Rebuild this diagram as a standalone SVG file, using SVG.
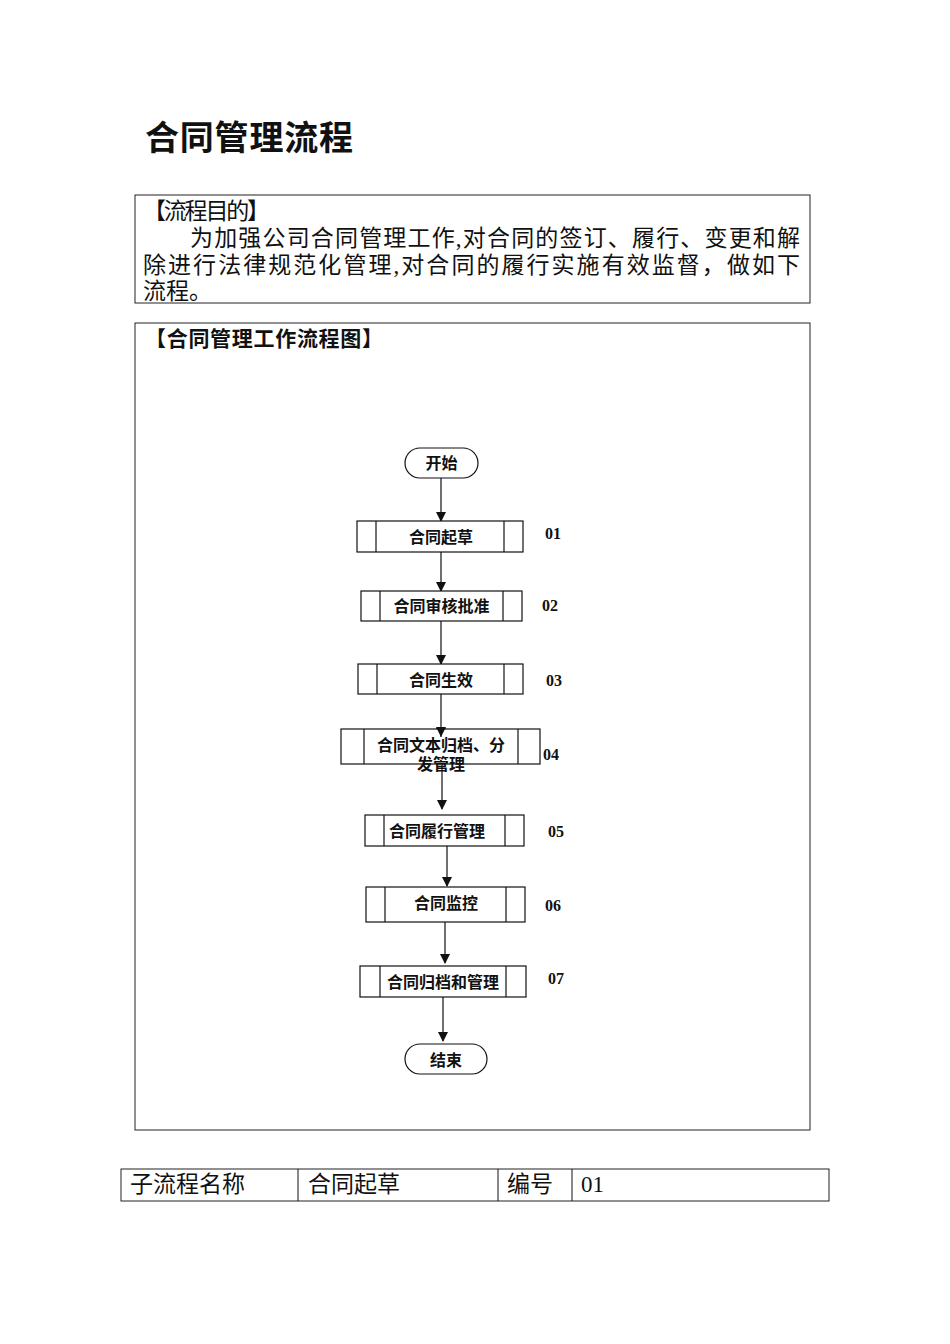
<svg xmlns="http://www.w3.org/2000/svg" width="950" height="1344" viewBox="0 0 950 1344">
<style>
.frame{fill:none;stroke:#222;stroke-width:1}
.body{font-family:"Liberation Serif","Noto Sans CJK SC",serif;font-size:23px;fill:#111}
.node{fill:#fff;stroke:#111;stroke-width:1.2}
.nt{font-family:"Liberation Sans","Noto Sans CJK SC",sans-serif;font-size:16px;font-weight:bold;fill:#111;text-anchor:middle}
.num{font-family:"Liberation Serif","Noto Sans CJK SC",serif;font-size:16px;font-weight:bold;fill:#111}
.conn{stroke:#111;stroke-width:1.2;fill:none}
</style>
<defs>
<marker id="arr" markerWidth="10" markerHeight="10" refX="9" refY="5" orient="auto" markerUnits="userSpaceOnUse">
<path d="M0,0 L10,5 L0,10 Z" fill="#111"/>
</marker>
</defs>
<rect width="950" height="1344" fill="#fff"/>
<text x="145" y="150" font-family="Liberation Sans,'Noto Sans CJK SC',sans-serif" font-size="34" font-weight="bold" fill="#111" textLength="208">合同管理流程</text>

<g id="purpose">
<rect class="frame" x="135" y="195" width="675" height="108"/>
<text class="body" x="143" y="219" textLength="127" lengthAdjust="spacing">【流程目的】</text>
<text class="body" x="190" y="246" textLength="610">为加强公司合同管理工作,对合同的签订、履行、变更和解</text>
<text class="body" x="143" y="273" textLength="657">除进行法律规范化管理,对合同的履行实施有效监督，做如下</text>
<text class="body" x="143" y="299">流程。</text>
</g>

<g id="chart-frame">
<rect class="frame" x="135" y="323" width="675" height="807"/>
<text x="145" y="346" font-family="Liberation Sans,'Noto Sans CJK SC',sans-serif" font-size="21" font-weight="bold" fill="#111" textLength="238">【合同管理工作流程图】</text>
</g>

<g id="connectors">
<line class="conn" x1="441" y1="478" x2="441" y2="521" marker-end="url(#arr)"/>
<line class="conn" x1="441" y1="552" x2="441" y2="591" marker-end="url(#arr)"/>
<line class="conn" x1="441" y1="621" x2="441" y2="664" marker-end="url(#arr)"/>
<line class="conn" x1="441" y1="694" x2="441" y2="737" marker-end="url(#arr)"/>
<line class="conn" x1="442" y1="764" x2="442" y2="809" marker-end="url(#arr)"/>
<line class="conn" x1="447" y1="846" x2="447" y2="886" marker-end="url(#arr)"/>
<line class="conn" x1="445" y1="922" x2="445" y2="963" marker-end="url(#arr)"/>
<line class="conn" x1="443" y1="997" x2="443" y2="1041" marker-end="url(#arr)"/>
</g>

<g id="start">
<rect class="node" x="405" y="448" width="73" height="30" rx="15"/>
<text class="nt" x="441.5" y="469">开始</text>
</g>

<g id="n01">
<rect class="node" x="357" y="521" width="166" height="31"/>
<line class="conn" x1="376" y1="521" x2="376" y2="552"/>
<line class="conn" x1="504" y1="521" x2="504" y2="552"/>
<text class="nt" x="441" y="543">合同起草</text>
<text class="num" x="545" y="539">01</text>
</g>

<g id="n02">
<rect class="node" x="361" y="591" width="161" height="30"/>
<line class="conn" x1="380" y1="591" x2="380" y2="621"/>
<line class="conn" x1="503" y1="591" x2="503" y2="621"/>
<text class="nt" x="441.5" y="612">合同审核批准</text>
<text class="num" x="542" y="611">02</text>
</g>

<g id="n03">
<rect class="node" x="358" y="664" width="165" height="30"/>
<line class="conn" x1="377" y1="664" x2="377" y2="694"/>
<line class="conn" x1="504" y1="664" x2="504" y2="694"/>
<text class="nt" x="441" y="686">合同生效</text>
<text class="num" x="546" y="686">03</text>
</g>

<g id="n04">
<rect class="node" x="341" y="729" width="199" height="35"/>
<line class="conn" x1="364" y1="729" x2="364" y2="764"/>
<line class="conn" x1="518" y1="729" x2="518" y2="764"/>
<line class="conn" x1="441" y1="729" x2="441" y2="737"/>
<path d="M436,727 L446,727 L441,737 Z" fill="#111"/>
<text class="nt" x="441" y="751">合同文本归档、分</text>
<text class="nt" x="441" y="770">发管理</text>
<text class="num" x="543" y="760">04</text>
</g>

<g id="n05">
<rect class="node" x="365" y="815" width="159" height="31"/>
<line class="conn" x1="384" y1="815" x2="384" y2="846"/>
<line class="conn" x1="505" y1="815" x2="505" y2="846"/>
<text class="nt" x="437" y="837">合同履行管理</text>
<text class="num" x="548" y="837">05</text>
</g>

<g id="n06">
<rect class="node" x="366" y="887" width="159" height="35"/>
<line class="conn" x1="385" y1="887" x2="385" y2="922"/>
<line class="conn" x1="506" y1="887" x2="506" y2="922"/>
<text class="nt" x="446" y="909">合同监控</text>
<text class="num" x="545" y="911">06</text>
</g>

<g id="n07">
<rect class="node" x="360" y="966" width="166" height="31"/>
<line class="conn" x1="380" y1="966" x2="380" y2="997"/>
<line class="conn" x1="506" y1="966" x2="506" y2="997"/>
<text class="nt" x="443" y="988">合同归档和管理</text>
<text class="num" x="548" y="984">07</text>
</g>

<g id="end">
<rect class="node" x="405" y="1044" width="82" height="30" rx="15"/>
<text class="nt" x="446" y="1066">结束</text>
</g>

<g id="table">
<rect class="frame" x="121" y="1169" width="708" height="32"/>
<line class="conn" x1="298" y1="1169" x2="298" y2="1201" style="stroke-width:1"/>
<line class="conn" x1="498" y1="1169" x2="498" y2="1201" style="stroke-width:1"/>
<line class="conn" x1="572" y1="1169" x2="572" y2="1201" style="stroke-width:1"/>
<text class="body" x="130" y="1192" font-size="22">子流程名称</text>
<text class="body" x="308" y="1192" font-size="22">合同起草</text>
<text class="body" x="507" y="1192" font-size="22">编号</text>
<text class="body" x="581" y="1192" font-size="22">01</text>
</g>
</svg>
